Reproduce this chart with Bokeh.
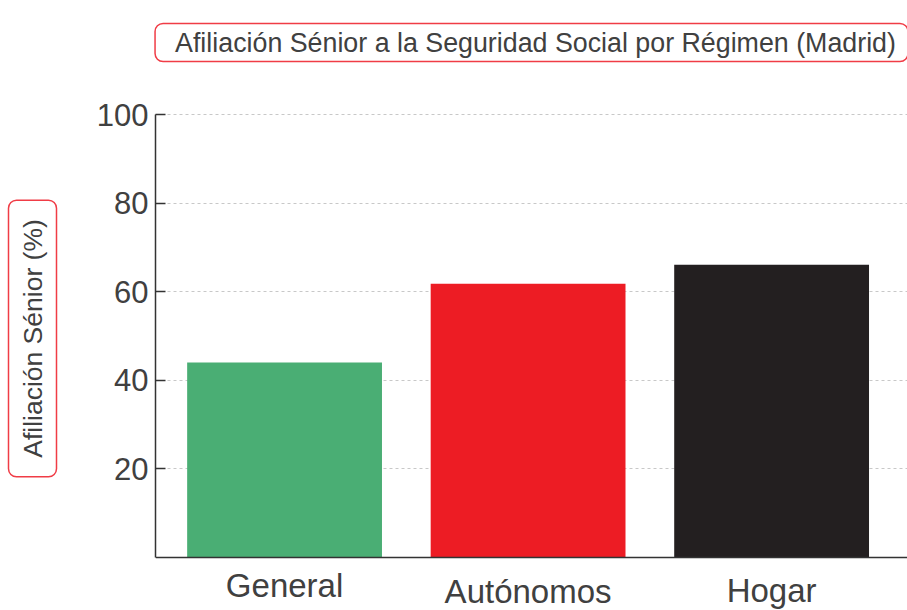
from bokeh.plotting import figure
from bokeh.models import Range1d, FixedTicker, Title, Span, ColumnDataSource
from bokeh.core.properties import value
from bokeh.embed import file_html
from bokeh.resources import INLINE

categories = ["General", "Autónomos", "Hogar"]
values = [44.0, 61.8, 66.1]
colors = ["#4aae74", "#ed1c24", "#231f20"]
y_ticks = [20, 40, 60, 80, 100]

# per-label vertical offsets of the category names (px below the baseline)
label_offsets = [28, 34, 33]

FONT = "Liberation Sans"
TXT = "#404040"
RED = "#f03c46"
AXIS = "#333333"

xs = list(range(len(categories)))
src = ColumnDataSource(dict(x=xs, top=values, color=colors, cat=categories))

p = figure(width=907, height=610, output_backend="svg", toolbar_location=None,
           x_range=Range1d(-0.53, 2.558), y_range=Range1d(-11.96, 110.84),
           x_axis_location=None,
           min_border_left=155, min_border_right=0, min_border_top=66,
           min_border_bottom=0)
p.outline_line_color = None
p.background_fill_color = "white"
p.border_fill_color = "white"

p.vbar(x="x", top="top", width=0.8, fill_color="color", line_color=None, source=src)

# baseline (x axis line)
p.add_layout(Span(location=0, dimension="width", line_color=AXIS, line_width=1.5))

# category names, staggered as in the reference
for x, cat, off in zip(xs, categories, label_offsets):
    p.text(x=[x], y=[0], text=[cat], y_offset=off, text_align="center",
           text_baseline="alphabetic", text_font=value(FONT),
           text_font_size="33px", text_color=TXT)

# y axis
p.yaxis.bounds = (0, 100)
p.yaxis.ticker = FixedTicker(ticks=y_ticks)
p.yaxis.major_tick_in = 10
p.yaxis.major_tick_out = 0
p.yaxis.minor_tick_line_color = None
p.yaxis.major_label_standoff = 7
p.yaxis.major_label_text_font = FONT
p.yaxis.major_label_text_font_size = "31px"
p.yaxis.major_label_text_color = TXT
p.yaxis.axis_line_color = AXIS
p.yaxis.axis_line_width = 1.5
p.yaxis.major_tick_line_color = AXIS
p.yaxis.major_tick_line_width = 1.5
# invisible spacer label between tick labels and the boxed title
p.yaxis.axis_label = " "
p.yaxis.axis_label_text_font_size = "1px"
p.yaxis.axis_label_standoff = 3

p.xgrid.grid_line_color = None
p.ygrid.ticker = FixedTicker(ticks=y_ticks)
p.ygrid.grid_line_color = "#c8c8c8"
p.ygrid.grid_line_dash = "3 3"
p.ygrid.grid_line_width = 1

title = Title(text="Afiliación Sénior a la Seguridad Social por Régimen (Madrid)",
              align="center", text_font=FONT,
              text_font_size="26.8px", text_font_style="normal", text_color=TXT,
              border_line_color=RED, border_line_width=1.5, border_radius=8,
              background_fill_color="white",
              padding=dict(left=20, right=12, top=4, bottom=4), standoff=10)
p.add_layout(title, "above")

ylab = Title(text="Afiliación Sénior (%)", align="center", vertical_align="top",
             text_font=FONT, text_font_size="26.5px", text_font_style="normal",
             text_color=TXT,
             border_line_color=RED, border_line_width=1.5, border_radius=8,
             background_fill_color="white",
             padding=dict(left=19, right=19, top=9, bottom=9), standoff=16)
p.add_layout(ylab, "left")

open("out.html", "w").write(file_html(p, INLINE))
